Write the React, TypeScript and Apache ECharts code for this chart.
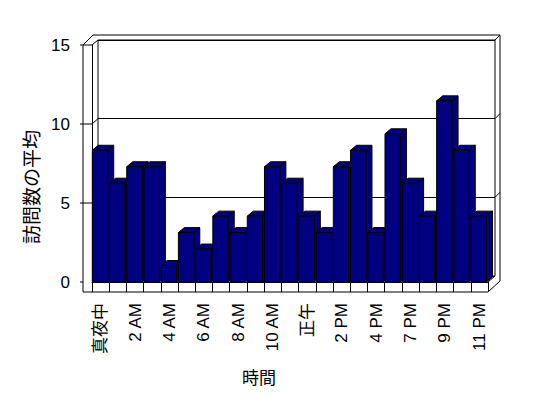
import React, { useEffect, useRef } from "react";
import * as echarts from "echarts";

const categories = [
  "真夜中", "1 AM", "2 AM", "3 AM", "4 AM", "5 AM", "6 AM", "7 AM", "8 AM", "9 AM", "10 AM", "11 AM",
  "正午", "1 PM", "2 PM", "3 PM", "4 PM", "6 PM", "7 PM", "8 PM", "9 PM", "10 PM", "11 PM",
];
const visits = [8, 6, 7, 7, 1, 3, 2, 4, 3, 4, 7, 6, 4, 3, 7, 8, 3, 9, 6, 4, 11, 8, 4];
const yTicks = [0, 5, 10, 15];
const yTitle = "訪問数の平均";
const xTitle = "時間";

const FONT = "'Liberation Sans', 'Noto Sans CJK JP', sans-serif";
const NAVY = "#000080";

export default function App() {
  const ref = useRef<HTMLDivElement>(null);
  useEffect(() => {
    if (!ref.current) return;
    const chart = echarts.init(ref.current, null, { renderer: "svg" });
    const barStyle = { fill: NAVY, stroke: "#000", lineWidth: 1 };
    chart.setOption({
      animation: false,
      backgroundColor: "#fff",
      grid: [
        { left: 92, right: 60, top: 35, bottom: 116 },
        { left: 98, right: 53, top: 40, bottom: 122, show: true, borderColor: "#000", borderWidth: 1, backgroundColor: "transparent" },
        { left: 92, right: 60, top: 45, bottom: 116 },
      ],
      xAxis: [
        {
          gridIndex: 0,
          type: "category",
          data: categories,
          boundaryGap: true,
          axisLine: { show: true, lineStyle: { color: "#000", width: 1 } },
          axisTick: { show: true, interval: 0, length: 10, inside: false, lineStyle: { color: "#000" } },
          axisLabel: { interval: 1, rotate: 90, margin: 21, color: "#000", fontSize: 17, fontFamily: FONT },
          splitLine: { show: false },
        },
        { gridIndex: 1, type: "value", show: false },
        { gridIndex: 2, type: "value", show: false },
      ],
      yAxis: [
        { gridIndex: 0, type: "value", min: 0, max: 15, interval: 5, show: false },
        {
          gridIndex: 1, type: "value", min: 0, max: 15, interval: 5,
          axisLine: { show: false }, axisTick: { show: false }, axisLabel: { show: false },
          splitLine: { show: true, lineStyle: { color: "#000", width: 1 } },
        },
        {
          gridIndex: 2, type: "value", min: 0, max: 15, interval: 5,
          axisLine: { show: true, lineStyle: { color: "#000", width: 1 } },
          axisTick: { show: false },
          axisLabel: { margin: 22, color: "#000", fontSize: 17, fontFamily: FONT },
          splitLine: { show: false },
        },
      ],
      series: [
        {
          type: "custom",
          xAxisIndex: 0,
          yAxisIndex: 0,
          z: 5,
          data: visits.map((v, i) => [i, v]),
          encode: { x: 0, y: 1 },
          renderItem: (params: any, api: any) => {
            const idx = api.value(0);
            const v = api.value(1);
            const c = api.coord([idx, v]);
            const b = api.coord([idx, 0]);
            const band = api.size([1, 0])[0];
            const x0 = c[0] - band / 2 + 0.3;
            const w = band * 0.895;
            const top = c[1];
            const bot = b[1];
            const dx = 6, dy = -5;
            return {
              type: "group",
              children: [
                { type: "polygon", shape: { points: [[x0 + w, top], [x0 + w + dx, top + dy], [x0 + w + dx, bot + dy], [x0 + w, bot]] }, style: barStyle },
                { type: "polygon", shape: { points: [[x0, top], [x0 + dx, top + dy], [x0 + w + dx, top + dy], [x0 + w, top]] }, style: barStyle },
                { type: "rect", shape: { x: x0, y: top, width: w, height: bot - top }, style: barStyle },
              ],
            };
          },
        },
      ],
    });

    const lineStyle = { stroke: "#000", lineWidth: 1, fill: "none" };
    const g: any[] = [];
    g.push({ type: "polyline", z: 1, shape: { points: [[83, 292], [83, 45], [93, 35], [500, 35], [500, 281], [488, 292], [83, 292]] }, style: lineStyle });
    g.push({ type: "line", z: 1, shape: { x1: 488, y1: 282, x2: 495, y2: 276 }, style: lineStyle });
    g.push({ type: "line", z: 1, shape: { x1: 495, y1: 40, x2: 500, y2: 35 }, style: lineStyle });
    yTicks.forEach((t) => {
      const yF = chart.convertToPixel({ yAxisIndex: 2 }, t) as number;
      const yB = chart.convertToPixel({ yAxisIndex: 1 }, t) as number;
      if (t > 0) {
        g.push({ type: "line", z: 1, shape: { x1: 80, y1: yF, x2: 92, y2: yF }, style: lineStyle });
        g.push({ type: "line", z: 1, shape: { x1: 92, y1: yF, x2: 98, y2: yB }, style: lineStyle });
        if (t < 15) g.push({ type: "line", z: 1, shape: { x1: 495, y1: yB, x2: 500, y2: yB - 5 }, style: lineStyle });
      } else {
        g.push({ type: "line", z: 1, shape: { x1: 80, y1: yF, x2: 83, y2: yF }, style: lineStyle });
        g.push({ type: "line", z: 1, shape: { x1: 92, y1: yF, x2: 98, y2: yB }, style: lineStyle });
      }
    });
    g.push({
      type: "text", z: 10, x: 32, y: 187, rotation: Math.PI / 2,
      style: { text: yTitle, fill: "#000", font: `19px ${FONT}`, align: "center", verticalAlign: "middle" },
    });
    g.push({
      type: "text", z: 10, x: 259, y: 378,
      style: { text: xTitle, fill: "#000", font: `17px ${FONT}`, align: "center", verticalAlign: "middle" },
    });
    chart.setOption({ graphic: g });

    return () => chart.dispose();
  }, []);
  return <div ref={ref} style={{ position: "fixed", left: 0, top: 0, width: 548, height: 398 }} />;
}
